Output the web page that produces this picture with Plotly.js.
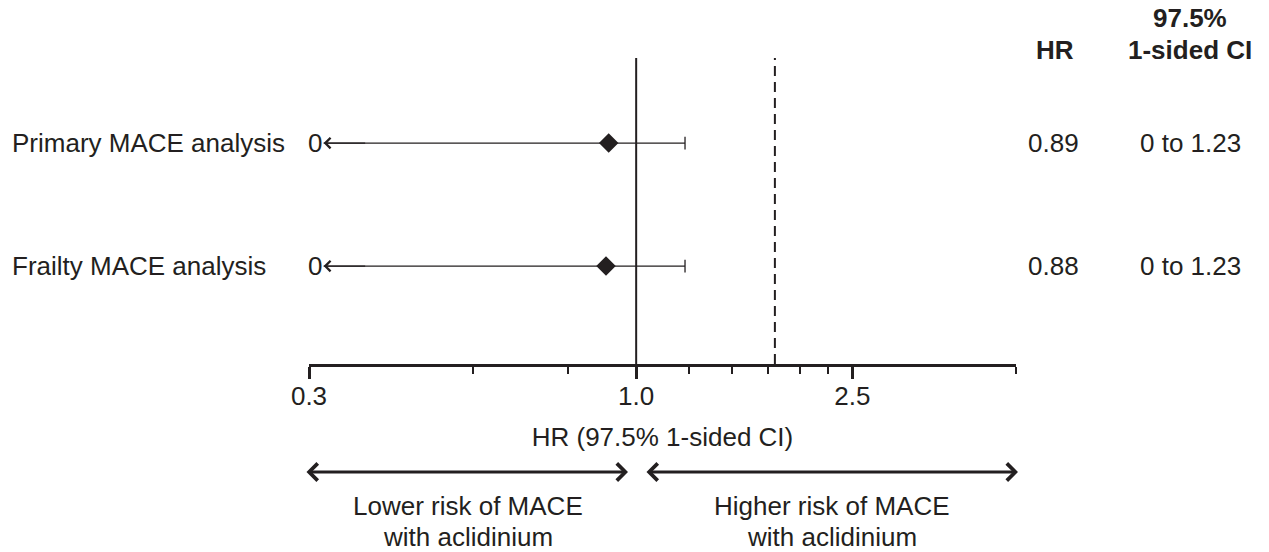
<!DOCTYPE html>
<html>
<head>
<meta charset="utf-8">
<script src="https://cdn.plot.ly/plotly-3.0.1.min.js"></script>
<style>html,body{margin:0;padding:0;background:#fff;}#chart{width:1269px;height:552px;}</style>
</head>
<body>
<div id="chart"></div>
<script>
// ---- data ----
const rowLabels = ['Primary MACE analysis', 'Frailty MACE analysis'];
const rowPos = [2, 1];
const hrValues = [0.89, 0.88];
const ciLower = [0, 0];
const ciUpper = [1.23, 1.23];
const hrText = ['0.89', '0.88'];
const ciText = ['0 to 1.23', '0 to 1.23'];
const arrowTip = 0.266;           // where the open-ended lower CI arrow is drawn (lower bound 0 on log axis)
const refLineSolid = 1.0;
const refLineDashed = 1.8;
const majorTicks = [0.25, 1.0, 2.5];
const majorTickText = ['0.3', '1.0', '2.5'];
const minorTicks = [0.5, 0.75, 1.25, 1.5, 1.75, 2.0, 2.25, 5.0];
const axisRange = [0.25, 5.0];

const ink = '#231f20';
const FONT = 'Liberation Sans, Arial, Helvetica, sans-serif';
const fs = 26;

const traces = [];
// CI lines
rowPos.forEach((y, i) => {
  traces.push({
    x: [arrowTip, ciUpper[i]], y: [y, y], mode: 'lines',
    line: {color: ink, width: 1.3}, hoverinfo: 'skip', showlegend: false
  });
});
// upper caps
traces.push({
  x: ciUpper, y: rowPos, mode: 'markers', showlegend: false, hoverinfo: 'skip',
  marker: {symbol: 'line-ns-open', size: 9, color: ink, line: {color: ink, width: 1.3}}
});
// HR diamonds
traces.push({
  x: hrValues, y: rowPos, mode: 'markers', showlegend: false,
  marker: {symbol: 'diamond', size: 15, color: ink, line: {width: 0}}
});

const annotations = [];
const plotL = 309, plotR = 1016, plotT = 58, plotB = 364;
const pw = plotR - plotL, ph = plotB - plotT;
const px = v => (v - plotL) / pw;
const py = v => (plotB - v) / ph;
const txt = (x, y, text, extra) => Object.assign({
  x: x, y: y, xref: 'paper', yref: 'paper', xanchor: 'center', yanchor: 'middle',
  text: text, showarrow: false, font: {size: fs, color: ink, family: FONT}
}, extra || {});

rowPos.forEach((y, i) => {
  // arrow head at lower end
  annotations.push({
    x: Math.log10(arrowTip), y: y, xref: 'x', yref: 'y',
    axref: 'x', ax: Math.log10(arrowTip * 1.2), ayref: 'y', ay: y,
    showarrow: true, arrowhead: 4, arrowsize: 1.7, arrowwidth: 1.2, arrowcolor: ink, text: ''
  });
  annotations.push(txt(Math.log10(arrowTip), y, String(ciLower[i]),
    {xref: 'x', yref: 'y', xanchor: 'right', xshift: 0}));
  annotations.push(txt(px(10), y, rowLabels[i], {yref: 'y', xanchor: 'left'}));
  annotations.push(txt(px(1053), y, hrText[i], {yref: 'y'}));
  annotations.push(txt(px(1190), y, ciText[i], {yref: 'y'}));
});

// column headers
annotations.push(txt(px(1055), py(50), '<b>HR</b>'));
annotations.push(txt(px(1190), py(18), '<b>97.5%</b>'));
annotations.push(txt(px(1190), py(50), '<b>1-sided CI</b>'));

// bottom direction arrows
annotations.push({x: px(628), y: py(472), xref: 'paper', yref: 'paper', axref: 'pixel', ayref: 'pixel',
  ax: -(628 - 305), ay: 0, showarrow: true, arrowside: 'end+start', arrowhead: 4, arrowsize: 1.1,
  arrowwidth: 3, arrowcolor: ink, text: ''});
annotations.push({x: px(1018), y: py(472), xref: 'paper', yref: 'paper', axref: 'pixel', ayref: 'pixel',
  ax: -(1018 - 645), ay: 0, showarrow: true, arrowside: 'end+start', arrowhead: 4, arrowsize: 1.1,
  arrowwidth: 3, arrowcolor: ink, text: ''});
annotations.push(txt(px(468), py(506), 'Lower risk of MACE'));
annotations.push(txt(px(468), py(537), 'with aclidinium'));
annotations.push(txt(px(832), py(506), 'Higher risk of MACE'));
annotations.push(txt(px(832), py(537), 'with aclidinium'));

const layout = {
  width: 1269, height: 552,
  margin: {l: plotL, r: 1269 - plotR, t: plotT, b: 552 - plotB, pad: 0},
  paper_bgcolor: '#fff', plot_bgcolor: '#fff',
  font: {family: FONT, color: ink, size: fs},
  showlegend: false,
  xaxis: {
    type: 'log', range: axisRange.map(Math.log10),
    showgrid: false, zeroline: false,
    showline: true, linecolor: ink, linewidth: 3,
    tickmode: 'array', tickvals: majorTicks, ticktext: majorTickText,
    ticks: 'outside', ticklen: 12, tickwidth: 3, tickcolor: ink,
    ticklabelstandoff: -5,
    tickfont: {size: fs, color: ink, family: FONT},
    minor: {tickmode: 'array', tickvals: minorTicks, ticks: 'outside', ticklen: 7, tickwidth: 2, tickcolor: ink, showgrid: false},
    title: {text: 'HR (97.5% 1-sided CI)', font: {size: fs, color: ink, family: FONT}, standoff: 18},
    fixedrange: true
  },
  yaxis: {
    range: [0.204, 2.692], visible: false, showgrid: false, zeroline: false, fixedrange: true
  },
  shapes: [
    {type: 'line', xref: 'x', yref: 'paper', x0: refLineSolid, x1: refLineSolid, y0: 0, y1: 1,
     line: {color: ink, width: 2}},
    {type: 'line', xref: 'x', yref: 'paper', x0: refLineDashed, x1: refLineDashed, y0: 0, y1: 1,
     line: {color: ink, width: 2, dash: '10px,6px'}}
  ],
  annotations: annotations
};

Plotly.newPlot('chart', traces, layout, {displayModeBar: false, staticPlot: true});
</script>
</body>
</html>
